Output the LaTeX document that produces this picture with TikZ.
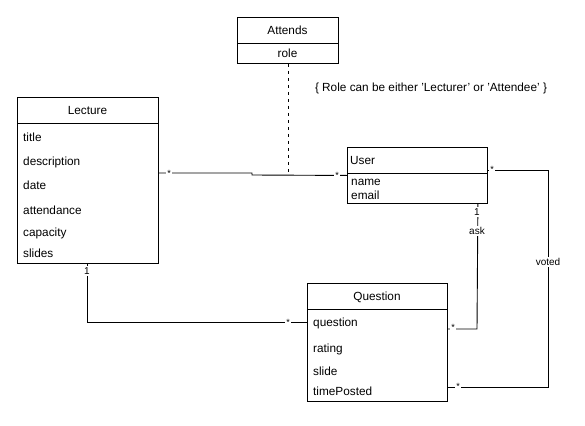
\documentclass[tikz,border=0pt]{standalone}
\usepackage{fontspec}
\setmainfont{Liberation Sans}
\usetikzlibrary{calc}
\begin{document}
\begin{tikzpicture}[x=1pt,y=-1pt,
  box/.style={draw, line width=0.9pt, fill=white, anchor=north west, inner sep=0pt},
  txt/.style={anchor=west, inner sep=0pt, font=\fontsize{11.8}{13}\selectfont},
  ctxt/.style={inner sep=0pt, font=\fontsize{11.8}{13}\selectfont},
  conn/.style={line width=0.9pt},
  mult/.style={fill=white, inner sep=0.8pt, font=\fontsize{9}{10}\selectfont},
  lbl/.style={fill=white, inner sep=1.5pt, font=\fontsize{10}{11}\selectfont}]
\useasboundingbox[fill=white] (0,0) rectangle (585,425);

% boxes
\node[box, minimum width=101, minimum height=46] (att) at (237,17) {};
\draw[line width=0.9pt] (237,43) -- (338,43);
\node[ctxt] (attT) at (287.5,30) {Attends};
\node[ctxt] (attR) at (287.5,53) {role};

\node[box, minimum width=141, minimum height=166] (lec) at (17,97) {};
\draw[line width=0.9pt] (17,123) -- (158,123);
\node[ctxt] (lecT) at (87.5,110) {Lecture};
\node[txt] (l1) at (23,137) {title};
\node[txt] (l2) at (23,162) {description};
\node[txt] (l3) at (23,185) {date};
\node[txt] (l4) at (23,210) {attendance};
\node[txt] (l5) at (23,233) {capacity};
\node[txt] (l6) at (23,253) {slides};

\node[box, minimum width=140, minimum height=56] (usr) at (347,147) {};
\draw[line width=0.9pt] (347,173) -- (487,173);
\node[txt] (usrT) at (350,160) {User};
\node[txt] (u1) at (351,182) {name};
\node[txt] (u2) at (351,195) {email};

\node[box, minimum width=140, minimum height=118] (que) at (307,283) {};
\draw[line width=0.9pt] (307,309) -- (447,309);
\node[ctxt] (queT) at (377,297) {Question};
\node[txt] (q1) at (313,323) {question};
\node[txt] (q2) at (313,349) {rating};
\node[txt] (q3) at (313,371) {slide};
\node[txt] (q4) at (313,391) {timePosted};

\node[ctxt] (note) at (431,88) {\{ Role can be either 'Lecturer' or 'Attendee' \}};

% connectors
\coordinate (lu1) at ($(lec.north east)+(0,76)$);
\coordinate (lu2) at (252,173);
\coordinate (lu3) at (252,175);
\draw[conn] (lu1) -- (lu2) -- (lu3) -- (usr.west);
\node[mult] (m1) at (169,173) {*};
\node[mult] (m2) at (337,175) {*};
\coordinate (dj) at (att.south |- lu3);
\draw[conn, dash pattern=on 3.5pt off 3.5pt] (att.south) -- (dj);

\coordinate (v1) at ($(usr.north east)+(0,23)$);
\coordinate (v2) at (548,170);
\coordinate (v3) at (548,387);
\coordinate (v4) at ($(que.north east)+(0,104)$);
\draw[conn] (v1) -- (v2) -- (v3) -- (v4);
\node[lbl] (voted) at (548,262) {voted};
\node[mult] (m3) at (492,169) {*};
\node[mult] (m4) at (458,386) {*};

\coordinate (a1) at ($(usr.south east)+(-10,0)$);
\coordinate (a2) at (477,329);
\coordinate (a3) at ($(que.north east)+(0,46)$);
\draw[conn] (a1) -- (a2) -- (a3);
\node[lbl] (one1) at (477,212) {1};
\node[lbl] (ask) at (477,231) {ask};
\node[mult] (m5) at (453,327) {*};

\coordinate (q1a) at ($(lec.south west)+(70,0)$);
\coordinate (q1b) at (87,322);
\coordinate (q1c) at ($(que.north west)+(0,39)$);
\draw[conn] (q1a) -- (q1b) -- (q1c);
\node[lbl] (one2) at (87,271) {1};
\node[mult] (m6) at (288,322) {*};
\end{tikzpicture}
\end{document}
